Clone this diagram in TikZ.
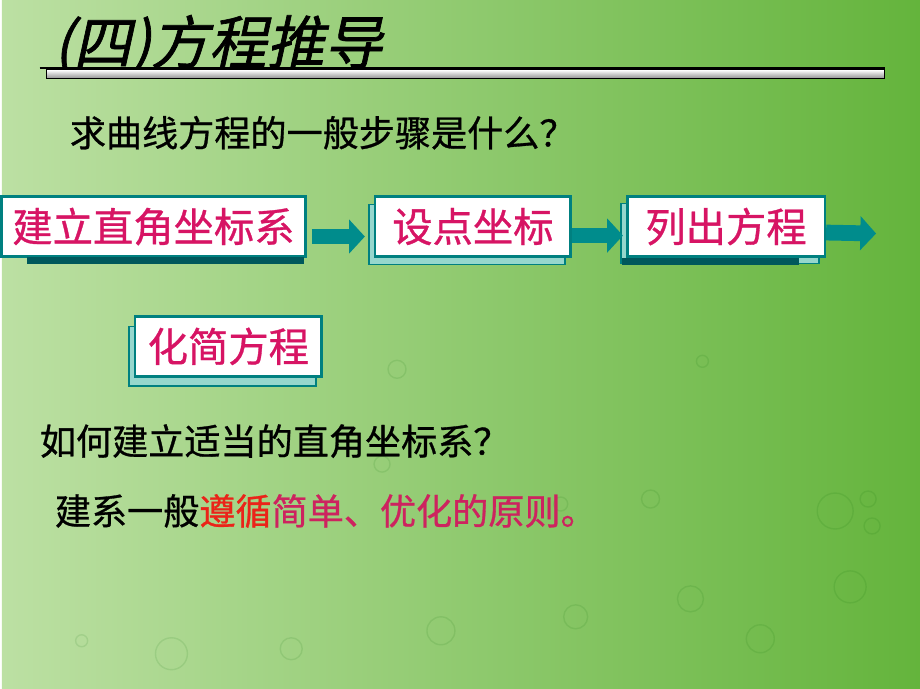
\documentclass[tikz,border=0pt]{standalone}
\usepackage{fontspec}
\setmainfont{Liberation Sans}
\newfontfamily\cjk{Noto Sans CJK SC}
\newfontfamily\cjkbody{Noto Sans CJK SC}[FakeBold=0.8]
\newfontfamily\cjktitle{Noto Sans CJK SC}[FakeSlant=0.22,FakeBold=1.2]
\usetikzlibrary{arrows.meta,shadows,positioning}

\definecolor{bgleft}{RGB}{188,224,163}
\definecolor{bgmid}{RGB}{160,210,118}
\definecolor{bgright}{RGB}{100,180,60}
\definecolor{boxteal}{RGB}{0,128,128}
\definecolor{arrowteal}{RGB}{0,140,140}
\definecolor{bevelteal}{RGB}{150,215,205}
\definecolor{bardark}{RGB}{0,88,92}
\definecolor{steptext}{RGB}{215,20,100}
\definecolor{redtext}{RGB}{235,35,25}
\definecolor{pinktext}{RGB}{205,35,95}

\begin{document}
\begin{tikzpicture}[
    x=0.02cm, y=-0.02cm,
    stepbox/.style={draw=boxteal, line width=1.5pt, fill=white, inner sep=0pt,
        text=steptext, font=\cjkbody\fontsize{23}{27}\selectfont, minimum height=1.2cm},
    bevelbox/.style={stepbox, copy shadow={shadow xshift=-0.12cm, shadow yshift=-#1,
        fill=bevelteal, draw=boxteal, line width=1pt}},
    steparrow/.style={draw=arrowteal, line width=9pt, line cap=butt,
        -{Triangle[width=19pt, length=9pt]}},
    plain/.style={anchor=west, font=\cjkbody\fontsize{20.6}{25}\selectfont},
    bubble/.style={draw=black!60!green, opacity=0.1, line width=0.8pt}
]
    % background
    \shade[left color=bgleft, middle color=bgmid, right color=bgright] (0,0) rectangle (920,690);
    \foreach \bx/\by/\br in {170/655/16, 290/650/11, 440/632/14, 575/618/12, 690/600/13,
        850/588/16, 650/500/9, 835/512/18, 868/500/8, 872/527/8, 760/640/14, 80/642/6,
        396/370/9, 702/362/6, 381/465/8, 560/505/7}
        \draw[bubble] (\bx,\by) circle (\br);

    % title
    \node[anchor=base west, font=\cjktitle\fontsize{33}{38}\selectfont] (title) at (46,64) {(四)方程推导};
    \draw[line width=1.5pt] (38,68) -- (885,68);
    \shade[top color=white, bottom color=black!45, draw=black, line width=0.6pt] (45,70) rectangle (884,79);

    \node[plain] (qsteps) at (62,133) {求曲线方程的一般步骤是什么？};

    % steps
    \node[stepbox, minimum width=6.1cm] (zuobiao) at (152,227) {建立直角坐标系};
    \fill[bardark] (25,257) rectangle (303,265);
    \node[bevelbox=0.16cm, minimum width=3.92cm, right=1.34cm of zuobiao] (shedian) {设点坐标};
    \node[bevelbox=0.14cm, minimum width=3.96cm, right=1.08cm of shedian] (liefang) {列出方程};
    \fill[bardark] ([xshift=-0.08cm]liefang.south west) rectangle ([xshift=-0.54cm, yshift=-0.15cm]liefang.south east);
    \node[bevelbox=0.2cm, minimum width=3.74cm] (huajian) at (227,347) {化简方程};
    \coordinate (next) at (876,234);

    \draw[steparrow] ([xshift=0.1cm, yshift=-0.2cm]zuobiao.east) -- ([xshift=-0.18cm, yshift=-0.2cm]shedian.west);
    \draw[steparrow] ([yshift=-0.18cm]shedian.east) -- ([xshift=-0.06cm, yshift=-0.18cm]liefang.west);
    \draw[steparrow] ([yshift=-0.12cm]liefang.east) -- (next);

    % questions
    \node[plain] (qhow) at (32,442) {如何建立适当的直角坐标系？};
    \node[plain] (rule) at (47,512) {建系一般\textcolor{redtext}{遵循}\textcolor{pinktext}{简单、优化的原则。}};
\end{tikzpicture}
\end{document}
